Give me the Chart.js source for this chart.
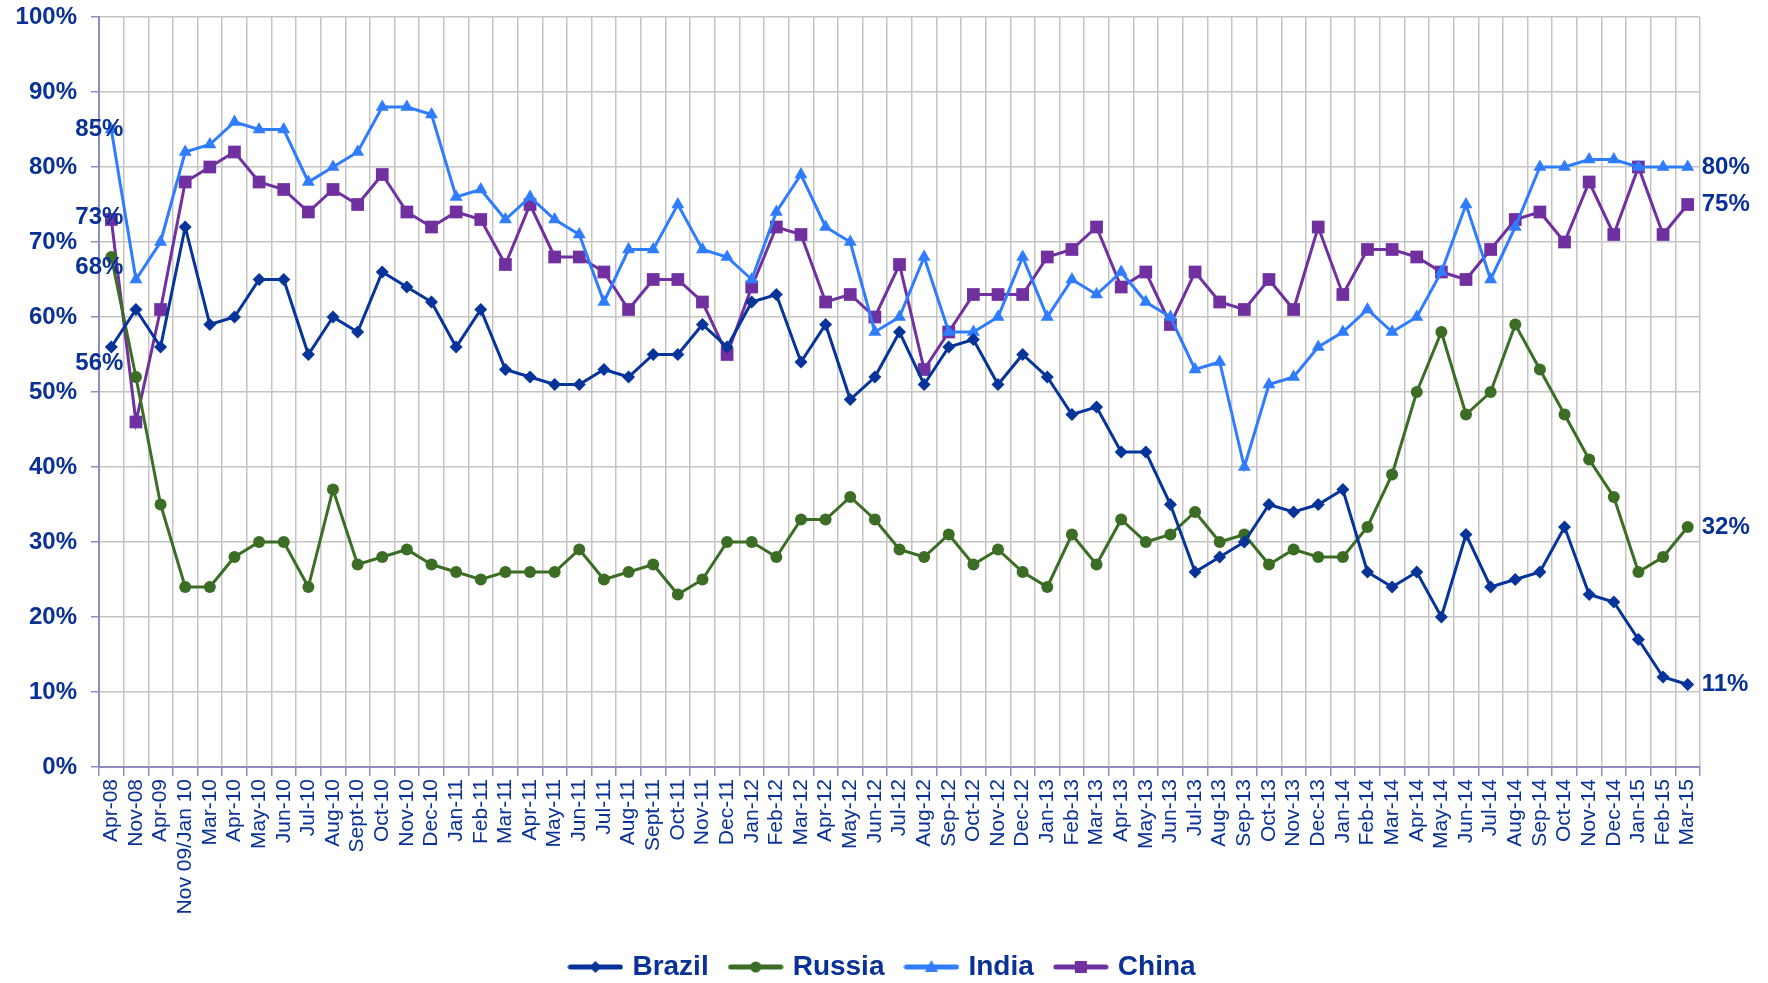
<!DOCTYPE html>
<html>
<head>
<meta charset="utf-8">
<script src="https://cdn.jsdelivr.net/npm/chart.js@4.4.1/dist/chart.umd.min.js"></script>
<style>
  html, body { margin: 0; padding: 0; background: #fff; }
  #wrap { width: 1768px; height: 983px; }
</style>
</head>
<body>
<div id="wrap"><canvas id="chart"></canvas></div>
<script>
// survey months
const months = [
  'Apr-08', 'Nov-08', 'Apr-09', 'Nov 09/Jan 10', 'Mar-10', 'Apr-10', 'May-10', 'Jun-10', 'Jul-10', 'Aug-10',
  'Sept-10', 'Oct-10', 'Nov-10', 'Dec-10', 'Jan-11', 'Feb-11', 'Mar-11', 'Apr-11', 'May-11', 'Jun-11',
  'Jul-11', 'Aug-11', 'Sept-11', 'Oct-11', 'Nov-11', 'Dec-11', 'Jan-12', 'Feb-12', 'Mar-12', 'Apr-12',
  'May-12', 'Jun-12', 'Jul-12', 'Aug-12', 'Sep-12', 'Oct-12', 'Nov-12', 'Dec-12', 'Jan-13', 'Feb-13',
  'Mar-13', 'Apr-13', 'May-13', 'Jun-13', 'Jul-13', 'Aug-13', 'Sep-13', 'Oct-13', 'Nov-13', 'Dec-13',
  'Jan-14', 'Feb-14', 'Mar-14', 'Apr-14', 'May-14', 'Jun-14', 'Jul-14', 'Aug-14', 'Sep-14', 'Oct-14',
  'Nov-14', 'Dec-14', 'Jan-15', 'Feb-15', 'Mar-15'
];

const brazil = [
  56, 61, 56, 72, 59, 60, 65, 65, 55, 60,
  58, 66, 64, 62, 56, 61, 53, 52, 51, 51,
  53, 52, 55, 55, 59, 56, 62, 63, 54, 59,
  49, 52, 58, 51, 56, 57, 51, 55, 52, 47,
  48, 42, 42, 35, 26, 28, 30, 35, 34, 35,
  37, 26, 24, 26, 20, 31, 24, 25, 26, 32,
  23, 22, 17, 12, 11
];

const russia = [
  68, 52, 35, 24, 24, 28, 30, 30, 24, 37,
  27, 28, 29, 27, 26, 25, 26, 26, 26, 29,
  25, 26, 27, 23, 25, 30, 30, 28, 33, 33,
  36, 33, 29, 28, 31, 27, 29, 26, 24, 31,
  27, 33, 30, 31, 34, 30, 31, 27, 29, 28,
  28, 32, 39, 50, 58, 47, 50, 59, 53, 47,
  41, 36, 26, 28, 32
];

const india = [
  85, 65, 70, 82, 83, 86, 85, 85, 78, 80,
  82, 88, 88, 87, 76, 77, 73, 76, 73, 71,
  62, 69, 69, 75, 69, 68, 65, 74, 79, 72,
  70, 58, 60, 68, 58, 58, 60, 68, 60, 65,
  63, 66, 62, 60, 53, 54, 40, 51, 52, 56,
  58, 61, 58, 60, 66, 75, 65, 72, 80, 80,
  81, 81, 80, 80, 80
];

const china = [
  73, 46, 61, 78, 80, 82, 78, 77, 74, 77,
  75, 79, 74, 72, 74, 73, 67, 75, 68, 68,
  66, 61, 65, 65, 62, 55, 64, 72, 71, 62,
  63, 60, 67, 53, 58, 63, 63, 63, 68, 69,
  72, 64, 66, 59, 66, 62, 61, 65, 61, 72,
  63, 69, 69, 68, 66, 65, 69, 73, 74, 70,
  78, 71, 80, 71, 75
];

const yTicks = [0, 10, 20, 30, 40, 50, 60, 70, 80, 90, 100];

const FONT = 'Arial, "Liberation Sans", sans-serif';
const TEXT_BLUE = '#0a3296';
const AXIS_LINE = '#8c8cbe';
const GRID = '#c4c4c4';

const series = [
  { label: 'Brazil', data: brazil, color: '#06349a', style: 'rectRot', radius: 6.5 },
  { label: 'Russia', data: russia, color: '#3b6e24', style: 'circle', radius: 6 },
  { label: 'India', data: india, color: '#2f7cff', style: 'triangle', radius: 7.5 },
  { label: 'China', data: china, color: '#7030a0', style: 'rect', radius: 9 }
];

// the first label is nudged down where it would sit on another label
const startShift = [16, 10, 0, -2];

// little line + marker picture for the legend
function legendIcon(color, style) {
  const c = document.createElement('canvas');
  c.width = 56;
  c.height = 18;
  const g = c.getContext('2d');
  g.strokeStyle = color;
  g.fillStyle = color;
  g.lineWidth = 5;
  g.lineCap = 'round';
  g.beginPath();
  g.moveTo(3, 9);
  g.lineTo(53, 9);
  g.stroke();
  g.beginPath();
  if (style === 'rectRot') {
    g.moveTo(28, 3); g.lineTo(34, 9); g.lineTo(28, 15); g.lineTo(22, 9);
  } else if (style === 'circle') {
    g.arc(28, 9, 5.5, 0, Math.PI * 2);
  } else if (style === 'triangle') {
    g.moveTo(28, 2); g.lineTo(34.5, 14); g.lineTo(21.5, 14);
  } else {
    g.rect(22, 3, 12, 12);
  }
  g.closePath();
  g.fill();
  return c;
}

const endLabels = {
  id: 'endLabels',
  afterDatasetsDraw(chart) {
    const { ctx, scales: { x, y } } = chart;
    const n = months.length;
    ctx.save();
    ctx.font = 'bold 24px ' + FONT;
    ctx.fillStyle = TEXT_BLUE;
    ctx.textBaseline = 'middle';
    chart.data.datasets.forEach((ds, i) => {
      const first = ds.data[0];
      const last = ds.data[n - 1];
      ctx.textAlign = 'right';
      ctx.fillText(first + '%', x.getPixelForValue(0) + 12, y.getPixelForValue(first) + startShift[i]);
      ctx.textAlign = 'left';
      ctx.fillText(last + '%', x.getPixelForValue(n - 1) + 14, y.getPixelForValue(last));
    });
    ctx.restore();
  }
};

const ctx = document.getElementById('chart').getContext('2d');
new Chart(ctx, {
  type: 'line',
  data: {
    labels: months,
    datasets: series.map(s => ({
      label: s.label,
      data: s.data,
      borderColor: s.color,
      backgroundColor: s.color,
      borderWidth: 3,
      pointStyle: s.style,
      pointRadius: s.radius,
      pointBorderWidth: 0,
      pointBackgroundColor: s.color,
      tension: 0,
      fill: false
    }))
  },
  options: {
    responsive: true,
    maintainAspectRatio: false,
    animation: false,
    layout: {
      padding: { left: 0, right: 0, top: 17, bottom: -8 }
    },
    plugins: {
      tooltip: { enabled: false },
      legend: {
        position: 'bottom',
        labels: {
          usePointStyle: true,
          pointStyleWidth: 46,
          padding: 24,
          color: TEXT_BLUE,
          font: { family: FONT, size: 28, weight: 'bold' },
          generateLabels: (chart) => series.map((s, i) => ({
            text: s.label,
            fillStyle: s.color,
            strokeStyle: s.color,
            lineWidth: 0,
            pointStyle: legendIcon(s.color, s.style),
            fontColor: TEXT_BLUE,
            datasetIndex: i,
            hidden: false
          }))
        }
      }
    },
    scales: {
      x: {
        type: 'category',
        offset: true,
        grid: {
          offset: true,
          color: GRID,
          lineWidth: 1.5,
          tickColor: AXIS_LINE,
          tickLength: 9
        },
        border: { color: AXIS_LINE, width: 2 },
        ticks: {
          autoSkip: false,
          minRotation: 90,
          maxRotation: 90,
          padding: 3,
          color: TEXT_BLUE,
          font: { family: FONT, size: 21 }
        },
        afterFit: (scale) => { scale.height = 162; }
      },
      y: {
        min: 0,
        max: 100,
        afterBuildTicks: (scale) => { scale.ticks = yTicks.map(v => ({ value: v })); },
        grid: {
          color: GRID,
          lineWidth: 1.5,
          tickColor: AXIS_LINE,
          tickLength: 8
        },
        border: { color: AXIS_LINE, width: 2 },
        ticks: {
          padding: 14,
          color: TEXT_BLUE,
          font: { family: FONT, size: 24, weight: 'bold' },
          callback: (v) => v + '%'
        },
        afterFit: (scale) => {
          scale.width = 99;
          scale.paddingTop = 0;
          scale.paddingBottom = 0;
        }
      },
      // empty strip on the right that holds the end labels
      yRight: {
        position: 'right',
        min: 0,
        max: 100,
        grid: { display: false, drawTicks: false },
        border: { display: false },
        ticks: { display: false },
        afterFit: (scale) => {
          scale.width = 68;
          scale.paddingTop = 0;
          scale.paddingBottom = 0;
        }
      }
    }
  },
  plugins: [endLabels]
});
</script>
</body>
</html>
